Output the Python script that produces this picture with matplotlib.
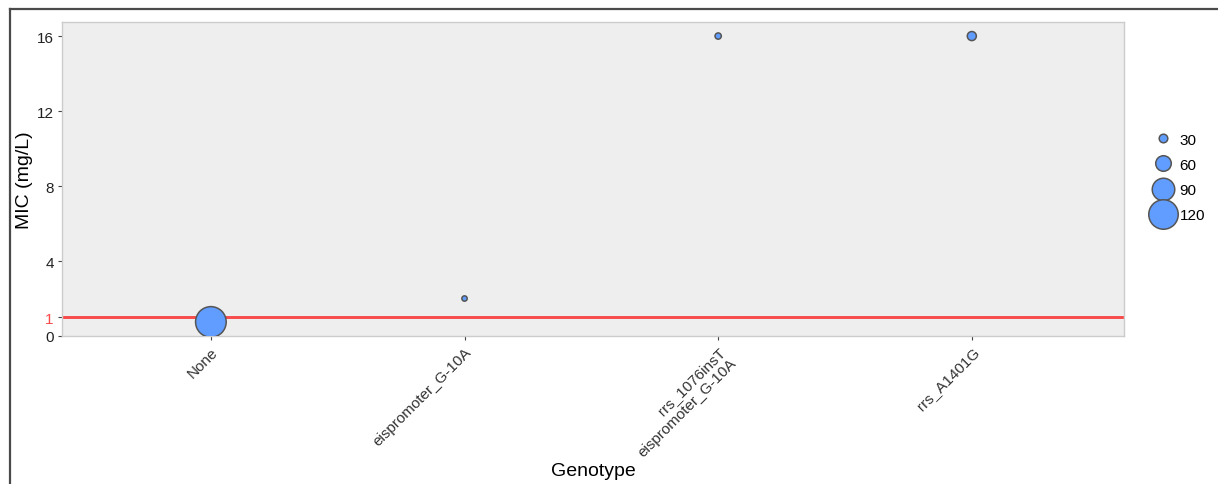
import matplotlib
matplotlib.use("Agg")
import matplotlib.pyplot as plt
from matplotlib.lines import Line2D

plt.rcParams["font.family"] = ["Liberation Sans", "DejaVu Sans"]

# data
genotypes = ["None", "eispromoter_G-10A", "rrs_1076insT\neispromoter_G-10A", "rrs_A1401G"]
mic = [0.75, 2, 16, 16]
counts = [125, 16, 20, 32]
size_breaks = [30, 60, 90, 120]
y_ticks = [0, 1, 4, 8, 12, 16]
breakpoint_mic = 1

point_face = "#619CFF"
point_edge = "#555555"
edge_lw = 1.1


def marker_pt(v):
    # visible diameter in px grows roughly linearly with the count
    d_px = 0.232 * v + 2.4
    return d_px * 0.72 - edge_lw * 0.5


W, H = 1218, 485
fig = plt.figure(figsize=(W / 100, H / 100), dpi=100)
ax = fig.add_axes([62 / W, 1 - 337 / H, (1124 - 62) / W, (337 - 23) / H])
ax.set_facecolor("#EEEEEE")
for s in ax.spines.values():
    s.set_color("#CCCCCC")
    s.set_linewidth(1.0)

xs = list(range(len(genotypes)))
ax.axhline(breakpoint_mic, color="#F94A4A", lw=2.1, zorder=2)
ax.scatter(xs, mic, s=[marker_pt(c) ** 2 for c in counts], c=point_face,
           edgecolors=point_edge, linewidths=edge_lw, zorder=3)

ax.set_xlim(-0.587, len(genotypes) - 1 + 0.6)
ax.set_ylim(0, 16.75)

ax.set_yticks(y_ticks)
ax.set_yticklabels([str(t) for t in y_ticks])
for t, lab in zip(y_ticks, ax.get_yticklabels()):
    lab.set_color("#F94A4A" if t == breakpoint_mic else "#222222")
ax.set_xticks(xs)
ax.set_xticklabels(genotypes, rotation=45, ha="right", va="top",
                   rotation_mode="anchor", multialignment="right")
ax.tick_params(axis="both", length=3, width=0.8, color="#444444",
               labelsize=11, pad=3)
ax.tick_params(axis="x", labelcolor="#333333")

ax.set_xlabel("Genotype", fontsize=14)
ax.xaxis.set_label_coords(0.5, -0.40)
ax.set_ylabel("MIC (mg/L)", fontsize=14)
ax.yaxis.set_label_coords(-0.027, 0.5)

handles = [Line2D([], [], ls="", marker="o", markersize=marker_pt(v),
                  markerfacecolor=point_face, markeredgecolor=point_edge,
                  markeredgewidth=edge_lw) for v in size_breaks]
fig.legend(handles, [str(v) for v in size_breaks], loc="upper left",
           bbox_to_anchor=(1143 / W, 1 - 126 / H), frameon=False,
           fontsize=11, handlelength=1.6, handletextpad=0.3,
           labelspacing=0.73, borderpad=0)

# dark frame, only left and top edges visible in the crop
fy = 1 - 9.5 / H
fx = 9.5 / W
fig.add_artist(Line2D([fx, fx], [0, fy], transform=fig.transFigure,
                      color="#4A4A4A", lw=1.6))
fig.add_artist(Line2D([fx, 1], [fy, fy], transform=fig.transFigure,
                      color="#4A4A4A", lw=1.6))

fig.savefig("out.png", dpi=100)
